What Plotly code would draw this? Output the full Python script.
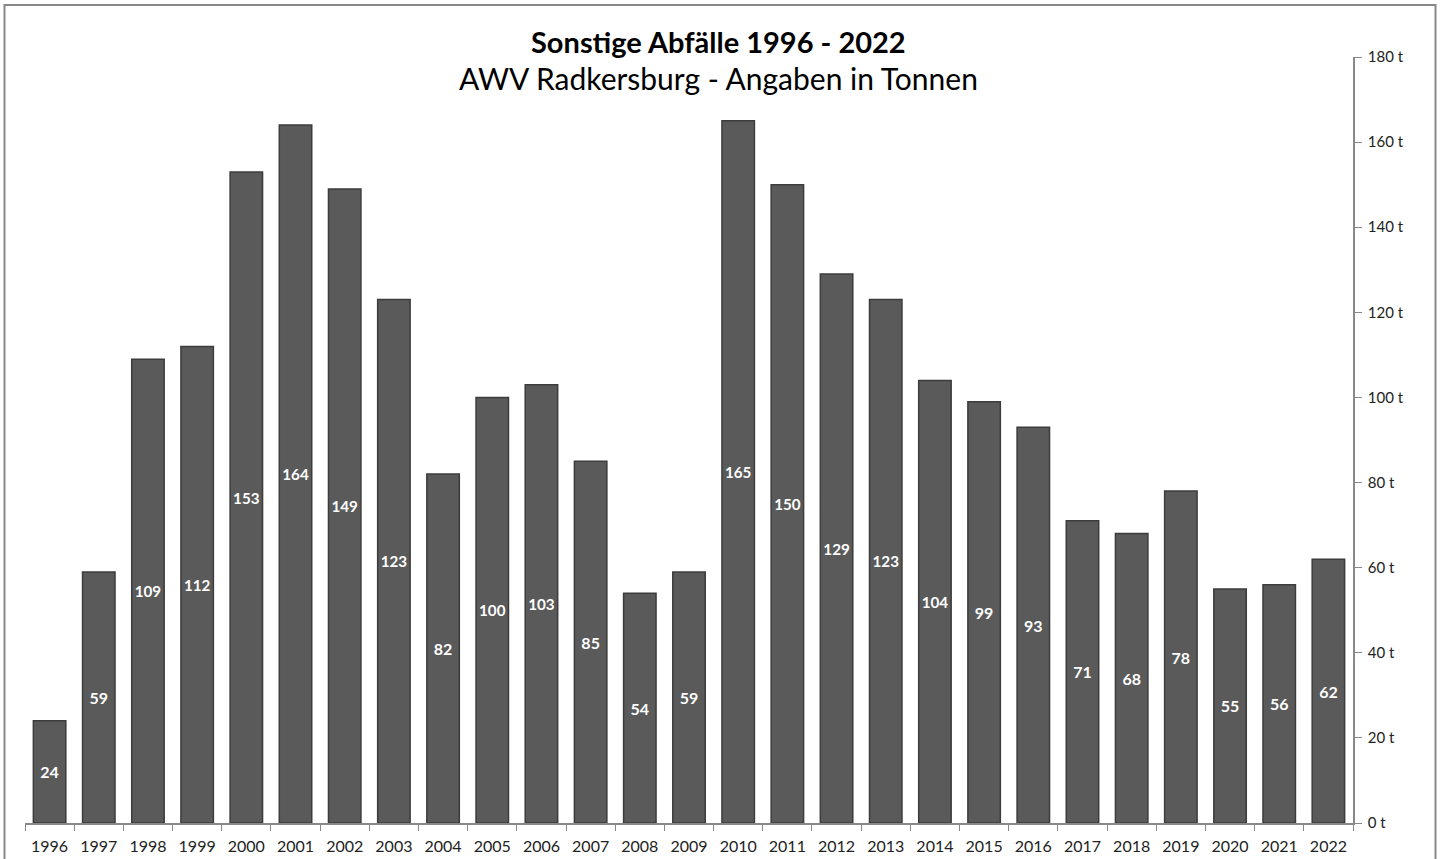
import plotly.graph_objects as go

years = [str(y) for y in range(1996, 2023)]
values = [24, 59, 109, 112, 153, 164, 149, 123, 82, 100, 103, 85, 54, 59,
          165, 150, 129, 123, 104, 99, 93, 71, 68, 78, 55, 56, 62]
y_ticks = [0, 20, 40, 60, 80, 100, 120, 140, 160, 180]

title_text = "Sonstige Abfälle 1996 - 2022"
subtitle_text = "AWV Radkersburg - Angaben in Tonnen"

W, H = 1443, 859
ML, MR, MT, MB = 25, 90, 57, 36
plot_w = W - ML - MR
plot_h = H - MT - MB


def px_x(p):
    return (p - ML) / plot_w


def px_y(p):
    return (H - MB - p) / plot_h


fig = go.Figure()
fig.add_trace(go.Bar(
    x=years, y=values,
    marker=dict(color="#5a5a5a", line=dict(color="#3c3c3c", width=1.5)),
    text=[str(v) for v in values],
    textposition="inside", insidetextanchor="middle",
    textfont=dict(color="white", size=16, family="Lato", weight="bold"),
    textangle=0,
    hoverinfo="x+y",
))

fig.update_layout(
    width=W, height=H,
    margin=dict(l=ML, r=MR, t=MT, b=MB, autoexpand=False),
    paper_bgcolor="white", plot_bgcolor="white",
    bargap=0.34,
    showlegend=False,
    font=dict(family="Lato", color="#222"),
    xaxis=dict(
        type="category", tickson="boundaries", ticks="outside", ticklen=6,
        tickcolor="#888", showline=True, linecolor="#888", linewidth=1.5,
        tickfont=dict(size=16, color="#222"), showgrid=False,
        ticklabelstandoff=8, automargin=False,
    ),
    yaxis=dict(
        side="right", range=[0, 180], tickvals=y_ticks,
        ticktext=[f"{v} t" for v in y_ticks],
        ticks="outside", ticklen=7, tickcolor="#888",
        showline=True, linecolor="#888", linewidth=1.5,
        tickfont=dict(size=15, color="#222"), showgrid=False, zeroline=False,
        ticklabelstandoff=3, automargin=False,
    ),
    annotations=[
        dict(text=f"<b>{title_text}</b>", x=px_x(718), y=px_y(42),
             xref="paper", yref="paper",
             showarrow=False, font=dict(size=29, color="#000", family="Lato"),
             xanchor="center", yanchor="middle"),
        dict(text=subtitle_text, x=px_x(718), y=px_y(78),
             xref="paper", yref="paper",
             showarrow=False, font=dict(size=30, color="#000", family="Lato"),
             xanchor="center", yanchor="middle"),
    ],
    shapes=[dict(type="rect", xref="paper", yref="paper",
                 x0=px_x(4.5), x1=px_x(1435.5), y0=px_y(870), y1=px_y(5),
                 line=dict(color="#888", width=2), layer="below")],
)

fig.write_html("out.html", config={"displayModeBar": False},
               post_script="document.body.style.margin='0';")
